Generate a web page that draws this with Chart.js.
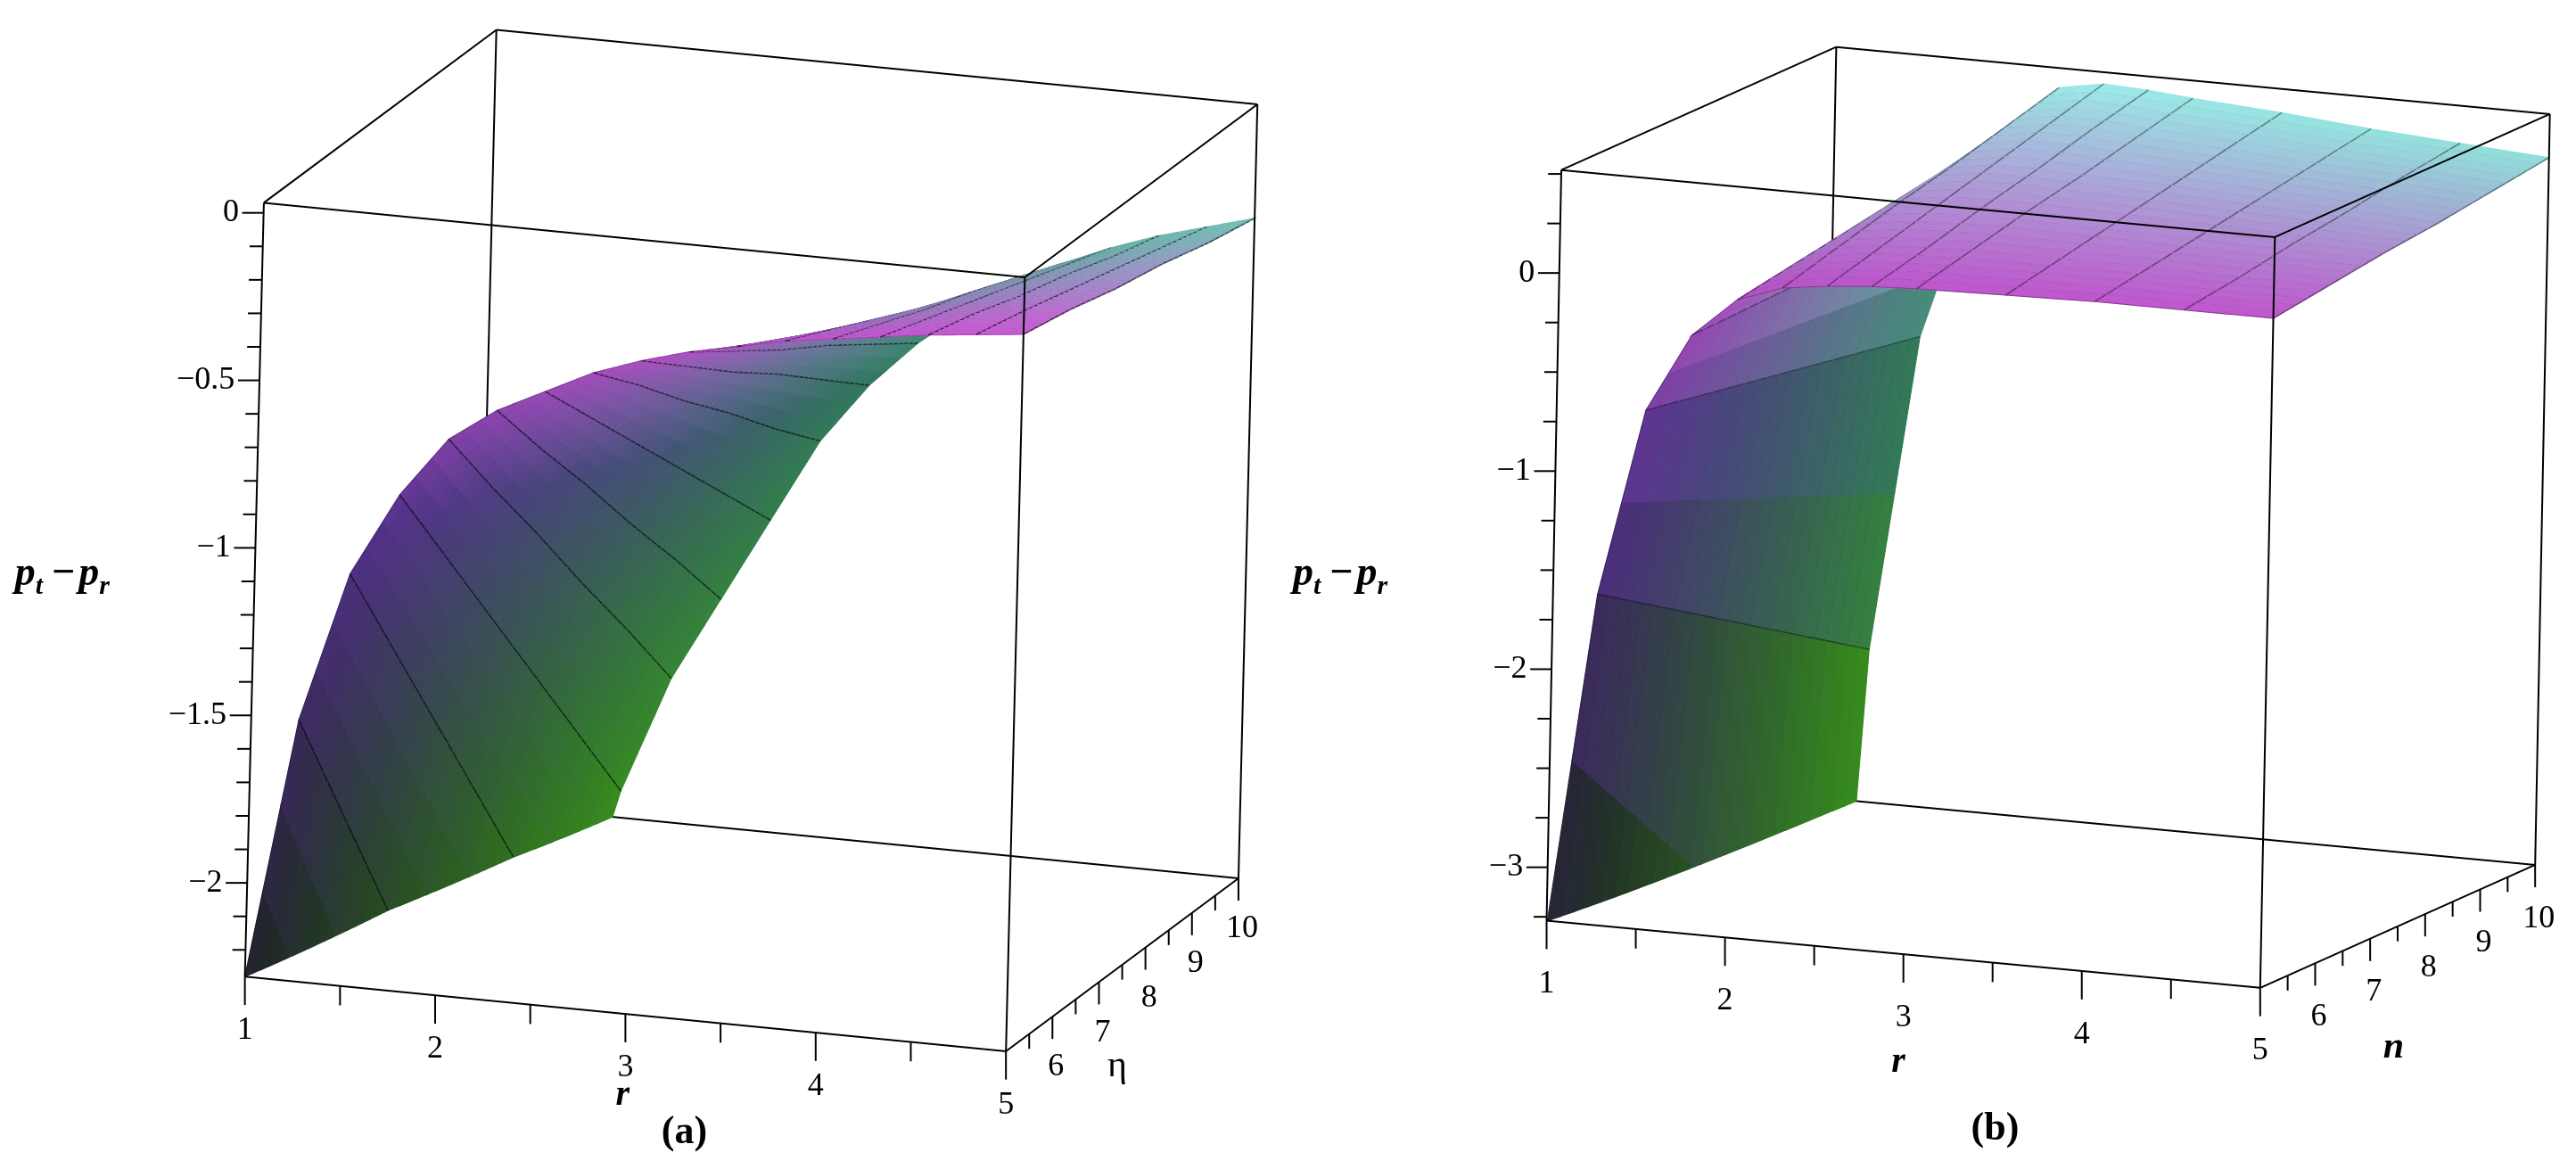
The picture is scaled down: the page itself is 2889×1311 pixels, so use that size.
<!DOCTYPE html>
<html><head><meta charset="utf-8">
<script src="https://cdn.jsdelivr.net/npm/chart.js@4.4.1/dist/chart.umd.min.js"></script>
<style>html,body{margin:0;padding:0;background:#fff;overflow:hidden}canvas{display:block}</style>
</head><body>
<canvas id="c" width="2889" height="1311" style="width:2889px;height:1311px"></canvas>
<script>
// ---------- data (a): p_t - p_r over r and eta ----------
const R_A = [1,1.25,1.5,1.75,2,2.25,2.5,2.75,3,3.25,3.5,3.75,4,4.25,4.5,4.75,5];
const ETA_A = [5,6,7,8,9,10];
const Z_A = [
 [-2.28,-1.50,-1.05,-0.80,-0.62,-0.52,-0.45,-0.38,-0.33,-0.29,-0.26,-0.23,-0.21,-0.19,-0.17,-0.155,-0.14],
 [-2.74,-1.88,-1.38,-1.08,-0.87,-0.74,-0.63,-0.52,-0.45,-0.39,-0.34,-0.30,-0.27,-0.24,-0.21,-0.19,-0.17],
 [-3.21,-2.26,-1.71,-1.36,-1.11,-0.95,-0.81,-0.67,-0.57,-0.49,-0.42,-0.37,-0.33,-0.29,-0.26,-0.23,-0.21],
 [-3.67,-2.64,-2.04,-1.64,-1.36,-1.17,-0.99,-0.81,-0.68,-0.58,-0.51,-0.44,-0.38,-0.34,-0.30,-0.27,-0.24],
 [-4.14,-3.02,-2.37,-1.92,-1.60,-1.38,-1.17,-0.96,-0.80,-0.68,-0.59,-0.51,-0.44,-0.39,-0.35,-0.31,-0.28],
 [-4.60,-3.40,-2.70,-2.20,-1.85,-1.60,-1.35,-1.10,-0.92,-0.78,-0.67,-0.58,-0.50,-0.44,-0.39,-0.35,-0.31]
];
// ---------- data (b): p_t - p_r over r and n ----------
const R_B = [1,1.25,1.5,1.75,2,2.25,2.5,2.75,3,3.5,4,4.5,5];
const N_B = [5,6,7,8,9,10];
const Z_B = [
 [-3.30,-1.60,-0.65,-0.25,-0.05,0.03,0.06,0.08,0.09,0.10,0.11,0.11,0.11],
 [-3.84,-1.78,-0.70,-0.24,0.00,0.11,0.14,0.15,0.16,0.16,0.16,0.15,0.15],
 [-4.38,-1.96,-0.75,-0.23,0.05,0.19,0.22,0.23,0.23,0.22,0.21,0.20,0.19],
 [-4.92,-2.14,-0.80,-0.22,0.10,0.26,0.30,0.30,0.29,0.28,0.26,0.24,0.22],
 [-5.46,-2.32,-0.85,-0.21,0.15,0.34,0.38,0.38,0.36,0.34,0.31,0.29,0.26],
 [-6.00,-2.50,-0.90,-0.20,0.20,0.42,0.46,0.45,0.43,0.40,0.36,0.33,0.30]
];
// ---------- ticks ----------
const ZT_A = [0,-0.5,-1,-1.5,-2], ZT_A_LBL = ['0','−0.5','−1','−1.5','−2'];
const ZT_B = [0,-1,-2,-3], ZT_B_LBL = ['0','−1','−2','−3'];
const RT = [1,2,3,4,5], RT_LBL = ['1','2','3','4','5'];
const NT = [6,7,8,9,10], NT_LBL = ['6','7','8','9','10'];

// ---------- panel geometry (layout) ----------
const PA = {sx:1.0814, sy:1.196, ox:0, O:[297,1310], er:[923,100], en:[282,-232], ez:[23,-1038],
  rMin:1,rMax:5,nMin:5,nMax:10,zMin:-2.28,zMax:0.03,
  R:R_A,N:ETA_A,Z:Z_A,zt:ZT_A,ztl:ZT_A_LBL,zMinor:0.1, subR:3, subN:9, darkA:0.6, fineA:0.22,
  zlab:[18,770], nSym:'η', nItalic:false, nLab:[1355,1430], rLab:[755,1470], cap:'(a)', capPos:[830,1520],
  rOff:72, nOff:68};
const PB = {sx:1.0896, sy:1.196, ox:1450, O:[310,1235], er:[872,90], en:[336,-165], ez:[18,-1007],
  rMin:1,rMax:5,nMin:5,nMax:10,zMin:-3.27,zMax:0.52,
  R:R_B,N:N_B,Z:Z_B,zt:ZT_B,ztl:ZT_B_LBL,zMinor:0.25, subR:2, subN:5, darkA:0.4, fineA:0.3,
  zlab:[0,770], nSym:'n', nItalic:true, nLab:[1345,1405], rLab:[740,1425], cap:'(b)', capPos:[858,1515],
  rOff:85, nOff:72};

function unitPt(P,a,b,c){
  const zx=P.O[0]+a*P.er[0]+b*P.en[0]+c*P.ez[0];
  const zy=P.O[1]+a*P.er[1]+b*P.en[1]+c*P.ez[1];
  return [P.ox+zx/P.sx, zy/P.sy];
}
function proj(P,r,n,z){
  return unitPt(P,(r-P.rMin)/(P.rMax-P.rMin),(n-P.nMin)/(P.nMax-P.nMin),(z-P.zMin)/(P.zMax-P.zMin));
}
function mix(a,b,t){return a.map((v,i)=>v+(b[i]-v)*t);}
const S5=[[30,34,40],[85,48,140],[230,100,230]];
const S10=[[55,140,30],[50,120,95],[160,240,238]];
function colorAt(P,n,z){
  const t=(n-P.nMin)/(P.nMax-P.nMin);
  let s=Math.max(0,Math.min(1,(z-P.zMin)/(P.zMax-P.zMin)));
  const st=[0,1,2].map(i=>mix(S5[i],S10[i],t));
  const c = s<0.6? mix(st[0],st[1],s/0.6) : mix(st[1],st[2],(s-0.6)/0.4);
  return 'rgb('+c.map(v=>Math.round(v)).join(',')+')';
}
// clip polygon of [r,n,z] against zMin<=z<=zMax
function clipPoly(poly,lim,above){
  const out=[];const inside=p=>above?p[2]>=lim:p[2]<=lim;
  for(let k=0;k<poly.length;k++){
    const a=poly[k],b=poly[(k+1)%poly.length];
    const ia=inside(a),ib=inside(b);
    if(ia)out.push(a);
    if(ia!==ib){const t=(lim-a[2])/(b[2]-a[2]);out.push([a[0]+(b[0]-a[0])*t,a[1]+(b[1]-a[1])*t,lim]);}
  }
  return out;
}

const surfacePlugin = {
  id:'surface3d',
  afterDatasetsDraw(chart){
    const ctx=chart.ctx, xs=chart.scales.x, ys=chart.scales.y;
    const toPx=p=>[xs.getPixelForValue(p[0]), ys.getPixelForValue(p[1])];
    const line=(P,a1,a2,w)=>{const p=toPx(unitPt(P,...a1)),q=toPx(unitPt(P,...a2));
      ctx.beginPath();ctx.moveTo(p[0],p[1]);ctx.lineTo(q[0],q[1]);ctx.lineWidth=w||2;ctx.strokeStyle='#000';ctx.stroke();};
    const seg=(P,pt,dx,dy)=>{const p=toPx(pt);const q=[p[0]+dx/P.sx,p[1]+dy/P.sy];
      ctx.beginPath();ctx.moveTo(p[0],p[1]);ctx.lineTo(q[0],q[1]);ctx.lineWidth=2;ctx.strokeStyle='#000';ctx.stroke();};
    const txt=(P,s,x,y,font,align)=>{ctx.font=font;ctx.fillStyle='#000';ctx.textAlign=align||'center';ctx.textBaseline='middle';
      const p=toPx([x,y]);ctx.fillText(s,p[0],p[1]);};
    [PA,PB].forEach(P=>{
      line(P,[0,1,0],[0,1,1]); line(P,[0,0,0],[0,1,0]); line(P,[0,1,0],[1,1,0]);
      const cells=[];
      for(let j=0;j<P.N.length-1;j++)for(let i=0;i<P.R.length-1;i++){
        const z00=P.Z[j][i],z10=P.Z[j][i+1],z11=P.Z[j+1][i+1],z01=P.Z[j+1][i];
        const zf=(u,v)=>z00*(1-u)*(1-v)+z10*u*(1-v)+z11*u*v+z01*(1-u)*v;
        const rf=u=>P.R[i]+(P.R[i+1]-P.R[i])*u, nf=v=>P.N[j]+(P.N[j+1]-P.N[j])*v;
        for(let q=0;q<P.subN;q++)for(let p=0;p<P.subR;p++){
          const u0=p/P.subR,u1=(p+1)/P.subR,v0=q/P.subN,v1=(q+1)/P.subN;
          const poly=[[rf(u0),nf(v0),zf(u0,v0)],[rf(u1),nf(v0),zf(u1,v0)],[rf(u1),nf(v1),zf(u1,v1)],[rf(u0),nf(v1),zf(u0,v1)]];
          const a=((rf(u0)+rf(u1))/2-P.rMin)/(P.rMax-P.rMin), b=((nf(v0)+nf(v1))/2-P.nMin)/(P.nMax-P.nMin);
          cells.push({poly,dark:p===0?[poly[0],poly[3]]:null,darkEnd:(i===P.R.length-2&&p===P.subR-1)?[poly[1],poly[2]]:null,
            n:(nf(v0)+nf(v1))/2, z:zf((u0+u1)/2,(v0+v1)/2), d:a*P.er[1]+b*P.en[1]});
        }
      }
      cells.sort((u,v)=>u.d-v.d);
      const drawDark=(e)=>{if(!e)return;let s=clipPoly(clipPoly(e,P.zMin,true),P.zMax,false);
        if(s.length<2)return;const pts=s.map(v=>toPx(proj(P,v[0],v[1],v[2])));
        ctx.beginPath();ctx.moveTo(pts[0][0],pts[0][1]);ctx.lineTo(pts[pts.length-1][0],pts[pts.length-1][1]);
        ctx.lineWidth=1.6;ctx.strokeStyle='rgba(0,0,0,'+P.darkA+')';ctx.stroke();};
      cells.forEach(c=>{
        const cp=clipPoly(clipPoly(c.poly,P.zMin,true),P.zMax,false);
        if(cp.length<3)return;
        const pts=cp.map(v=>toPx(proj(P,v[0],v[1],v[2])));
        const col=colorAt(P,c.n,c.z);
        ctx.beginPath();pts.forEach((p,k)=>k?ctx.lineTo(p[0],p[1]):ctx.moveTo(p[0],p[1]));ctx.closePath();
        ctx.fillStyle=col;ctx.fill();ctx.strokeStyle=col;ctx.lineWidth=1.2;ctx.stroke();
        // fine mesh lines (constant eta)
        const e1=clipPoly(clipPoly([c.poly[0],c.poly[1]],P.zMin,true),P.zMax,false);
        if(e1.length>=2){const a=toPx(proj(P,...e1[0])),b=toPx(proj(P,...e1[e1.length-1]));
          ctx.beginPath();ctx.moveTo(a[0],a[1]);ctx.lineTo(b[0],b[1]);ctx.lineWidth=1;ctx.strokeStyle='rgba(0,0,0,'+P.fineA+')';ctx.stroke();}
        drawDark(c.dark);drawDark(c.darkEnd);
      });
      line(P,[0,0,0],[1,0,0]); line(P,[1,0,0],[1,1,0]); line(P,[0,0,0],[0,0,1]);
      line(P,[1,0,0],[1,0,1]); line(P,[1,1,0],[1,1,1]);
      line(P,[0,0,1],[1,0,1]); line(P,[1,0,1],[1,1,1]); line(P,[1,1,1],[0,1,1]); line(P,[0,1,1],[0,0,1]);
      for(let z=Math.ceil(P.zMin/P.zMinor)*P.zMinor; z<=P.zMax+1e-9; z+=P.zMinor){
        const major=P.zt.some(t=>Math.abs(t-z)<1e-6);
        seg(P,proj(P,P.rMin,P.nMin,z),major?-26:-16,0);
      }
      P.zt.forEach((z,k)=>{const p=proj(P,P.rMin,P.nMin,z);
        txt(P,P.ztl[k],p[0]-30/P.sx,p[1],'36px "Liberation Serif"','right');});
      for(let r=P.rMin;r<=P.rMax+1e-9;r+=0.5){seg(P,proj(P,r,P.nMin,P.zMin),0,RT.includes(r)?38:26);}
      RT.forEach((r,k)=>{const p=proj(P,r,P.nMin,P.zMin);txt(P,RT_LBL[k],p[0],p[1]+P.rOff/P.sy,'36px "Liberation Serif"');});
      for(let n=P.nMin+0.5;n<=P.nMax+1e-9;n+=0.5){seg(P,proj(P,P.rMax,n,P.zMin),0,NT.includes(n)?30:20);}
      NT.forEach((n,k)=>{const p=proj(P,P.rMax,n,P.zMin);txt(P,NT_LBL[k],p[0]+4,p[1]+P.nOff/P.sy,'36px "Liberation Serif"');});
      const u=v=>[P.ox+v[0]/P.sx, v[1]/P.sy];
      let q=u(P.rLab); txt(P,'r',q[0],q[1],'italic bold 40px "Liberation Serif"');
      q=u(P.nLab); txt(P,P.nSym,q[0],q[1],(P.nItalic?'italic bold ':'')+'42px "Liberation Serif"');
      q=u(P.capPos); txt(P,P.cap,q[0],q[1],'bold 44px "Liberation Serif"');
      q=toPx(u(P.zlab));
      ctx.textAlign='left';ctx.textBaseline='alphabetic';ctx.fillStyle='#000';
      let x=q[0], y=q[1]+12;
      ctx.font='italic bold 46px "Liberation Serif"';ctx.fillText('p',x,y);x+=ctx.measureText('p').width;
      ctx.font='italic bold 30px "Liberation Serif"';ctx.fillText('t',x,y+10);x+=ctx.measureText('t').width+10;
      ctx.font='bold 46px "Liberation Serif"';ctx.fillText('−',x,y);x+=ctx.measureText('−').width+4;
      ctx.font='italic bold 46px "Liberation Serif"';ctx.fillText('p',x,y);x+=ctx.measureText('p').width;
      ctx.font='italic bold 30px "Liberation Serif"';ctx.fillText('r',x,y+10);
    });
  }
};

new Chart(document.getElementById('c'),{
  type:'scatter',
  data:{datasets:[{data:[],pointRadius:0}]},
  options:{responsive:false,animation:false,devicePixelRatio:1,
    layout:{padding:0},
    plugins:{legend:{display:false},tooltip:{enabled:false}},
    scales:{x:{type:'linear',min:0,max:2889,display:false},
            y:{type:'linear',min:0,max:1311,reverse:true,display:false}}},
  plugins:[surfacePlugin]
});
</script>
</body></html>
